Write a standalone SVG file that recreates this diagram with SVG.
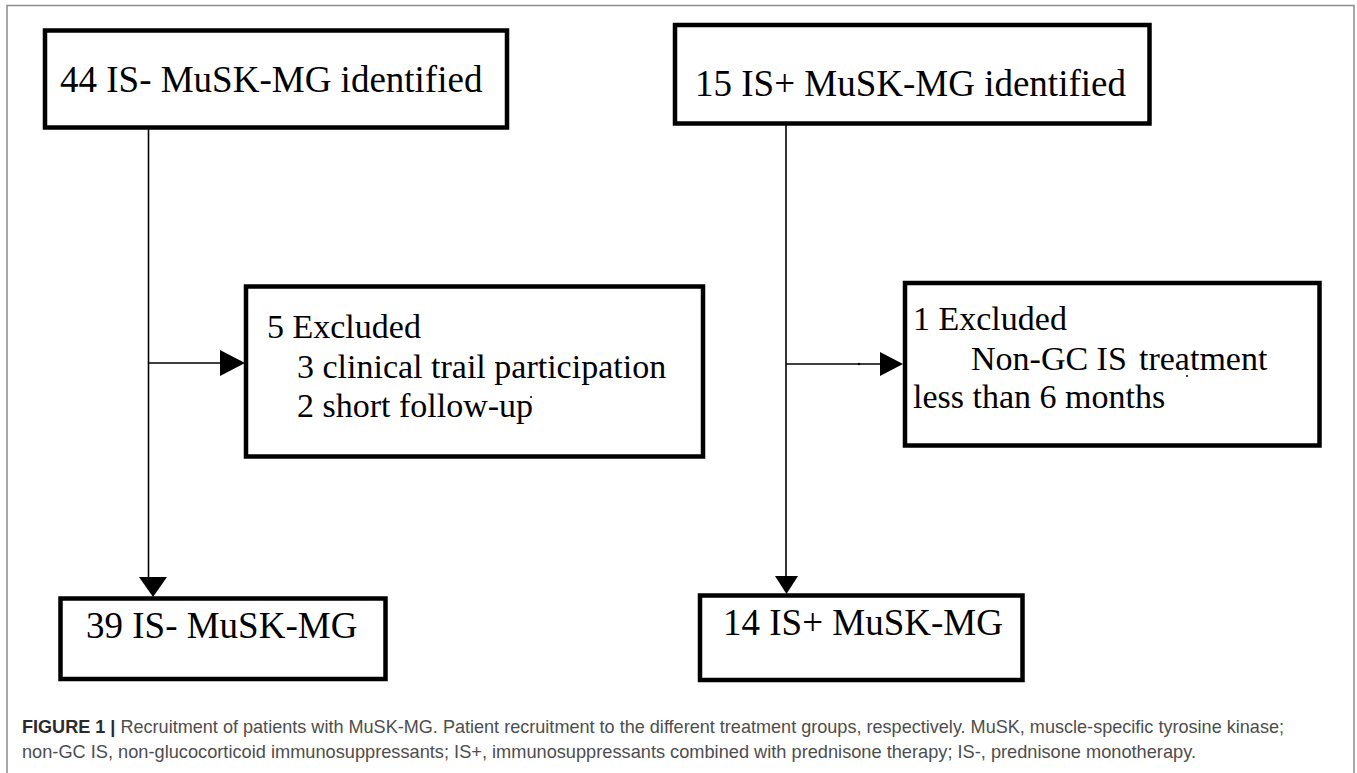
<svg xmlns="http://www.w3.org/2000/svg" width="1357" height="773" viewBox="0 0 1357 773">
<style>
.box{fill:#fff;stroke:#000;stroke-width:4.5}
.t{font-family:"Liberation Serif","Times New Roman",serif;fill:#000}
.big{font-size:37px}
.mid{font-size:34px}
.ln{stroke:#000;stroke-width:1.6;fill:none}
.ah{fill:#000}
.cap{font-family:"Liberation Sans",Arial,sans-serif;font-size:19px;fill:#4d4d4d}
.capb{font-weight:bold;fill:#2b2b2b}
</style>
<rect width="1357" height="773" fill="#fff"/>
<rect x="7" y="5.5" width="1347" height="800" fill="none" stroke="#8c8c8c" stroke-width="1.5"/>
<g id="connectors">
<line class="ln" x1="148.5" y1="129" x2="148.5" y2="579"/>
<polygon class="ah" points="139,577 167,577 153,597"/>
<line class="ln" x1="148.5" y1="363" x2="222" y2="363"/>
<polygon class="ah" points="220,350 220,376 245,363"/>
<line class="ln" x1="786" y1="125" x2="786" y2="578"/>
<polygon class="ah" points="775,576 798,576 786.5,594"/>
<line class="ln" x1="786" y1="364" x2="882" y2="364"/>
<polygon class="ah" points="880,352 880,376 903,364"/>
<circle cx="859" cy="364" r="1.3" fill="#000"/>
</g>
<g id="n-is-minus-identified">
<rect class="box" x="45" y="30.5" width="462" height="97"/>
<text class="t big" x="60" y="92">44 IS- MuSK-MG identified</text>
</g>
<g id="n-is-plus-identified">
<rect class="box" x="675" y="25" width="474.5" height="98.5"/>
<text class="t big" x="695" y="96">15 IS+ MuSK-MG identified</text>
</g>
<g id="n-excluded-left">
<rect class="box" x="246" y="286.5" width="457" height="170"/>
<text class="t mid" x="267" y="338">5 Excluded</text>
<text class="t mid" x="297" y="378">3 clinical trail participation</text>
<text class="t mid" x="297" y="417">2 short follow-up</text>
<circle cx="531" cy="397" r="1" fill="#000"/>
</g>
<g id="n-excluded-right">
<rect class="box" x="905" y="283" width="414.5" height="162.5"/>
<text class="t mid" x="913" y="330">1 Excluded</text>
<text class="t mid" y="370"><tspan x="971">Non-GC IS</tspan><tspan x="1139">treatment</tspan></text>
<text class="t mid" x="913" y="408">less than 6 months</text>
<circle cx="1187" cy="376" r="1" fill="#000"/>
</g>
<g id="n-is-minus-final">
<rect class="box" x="60.5" y="598.5" width="325" height="80.5"/>
<text class="t big" x="86" y="638" font-size="36.8">39 IS- MuSK-MG</text>
</g>
<g id="n-is-plus-final">
<rect class="box" x="700" y="595.5" width="322.5" height="84.5"/>
<text class="t big" x="723" y="635" font-size="36.8">14 IS+ MuSK-MG</text>
</g>
<g id="caption">
<text class="cap" x="22" y="733" textLength="1262" lengthAdjust="spacingAndGlyphs"><tspan class="capb">FIGURE 1 |</tspan> Recruitment of patients with MuSK-MG. Patient recruitment to the different treatment groups, respectively. MuSK, muscle-specific tyrosine kinase;</text>
<text class="cap" x="22" y="758" textLength="1174" lengthAdjust="spacingAndGlyphs">non-GC IS, non-glucocorticoid immunosuppressants; IS+, immunosuppressants combined with prednisone therapy; IS-, prednisone monotherapy.</text>
</g>
</svg>
